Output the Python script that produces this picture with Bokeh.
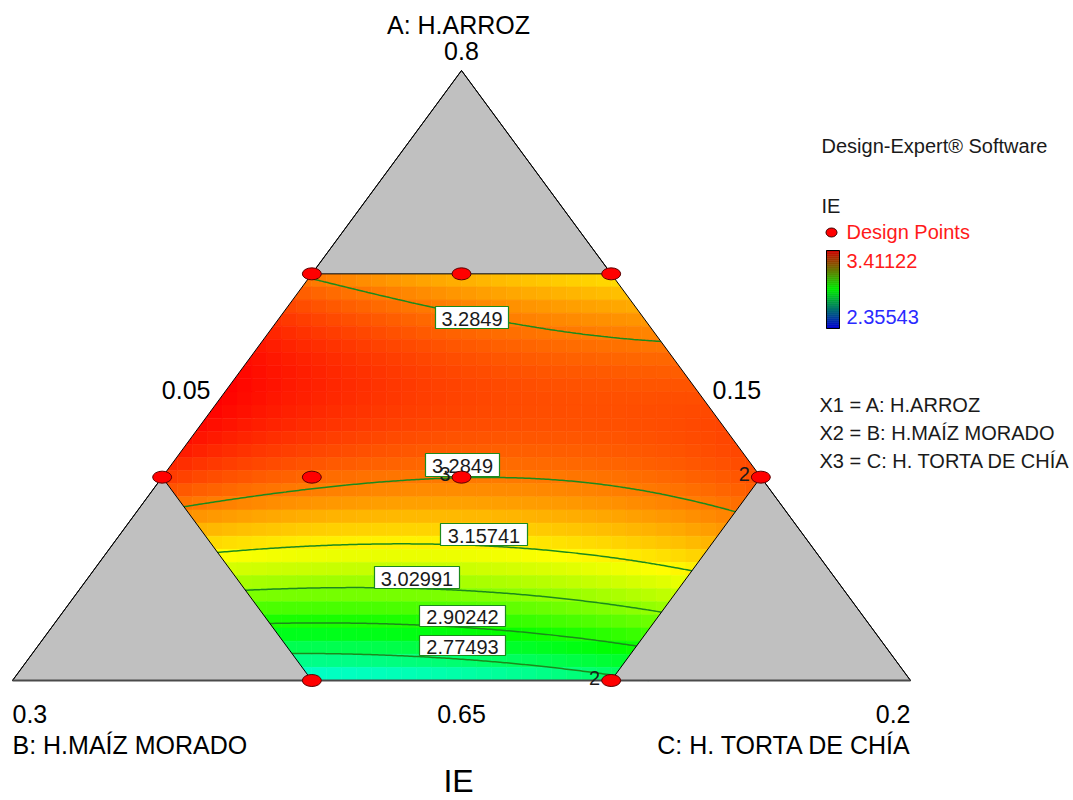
import numpy as np
from bokeh.plotting import figure
from bokeh.models import Range1d
from bokeh.core.properties import value
from bokeh.embed import file_html
from bokeh.resources import INLINE

# ---------------- data ----------------
axis_names = ["A: H.ARROZ", "B: H.MAÍZ MORADO", "C: H. TORTA DE CHÍA"]
vertex_ticks = ["0.8", "0.3", "0.2"]          # A apex, B apex, C apex
side_ticks = ["0.05", "0.15", "0.65"]         # C on A-B side, B on A-C side, A on B-C side
low_bounds = [0.65, 0.15, 0.05]
simplex_span = 0.15

design_A = [0.75, 0.75, 0.75, 0.70, 0.70, 0.70, 0.70, 0.65, 0.65]
design_B = [0.20, 0.175, 0.15, 0.25, 0.225, 0.20, 0.15, 0.25, 0.20]
design_C = [0.05, 0.075, 0.10, 0.05, 0.075, 0.10, 0.15, 0.10, 0.15]
design_reps = [1, 1, 1, 1, 1, 3, 2, 1, 2]

contour_levels = [2.77493, 2.90242, 3.02991, 3.15741, 3.2849]
ie_min = 2.35543
ie_max = 3.41122

# response IE (contour crossings and colours)
read_A = [0.7487, 0.7412, 0.7370, 0.7338, 0.7328, 0.7336,
          0.6929, 0.6988, 0.7003, 0.7003, 0.6983, 0.6954, 0.6904,
          0.6817, 0.6827, 0.6840, 0.6830, 0.6805, 0.6765,
          0.6726, 0.6731, 0.6723, 0.6698, 0.6666,
          0.6641, 0.6639, 0.6631, 0.6587,
          0.6567, 0.6562, 0.6557, 0.6520,
          0.75, 0.75, 0.75, 0.74, 0.725, 0.7194, 0.725, 0.725, 0.725,
          0.70, 0.70, 0.70, 0.70, 0.65, 0.65, 0.65]
read_B = [0.2014, 0.1896, 0.1800, 0.1694, 0.1592, 0.1500,
          0.2497, 0.2208, 0.2055, 0.1905, 0.1776, 0.1679, 0.1599,
          0.2498, 0.2305, 0.2115, 0.2031, 0.1877, 0.1735,
          0.2494, 0.2348, 0.2140, 0.1986, 0.1835,
          0.2495, 0.2349, 0.2186, 0.1916,
          0.2500, 0.2388, 0.2223, 0.2008,
          0.20, 0.175, 0.15, 0.21, 0.225, 0.2239, 0.20, 0.175, 0.15,
          0.25, 0.225, 0.175, 0.15, 0.25, 0.225, 0.20]
read_C = [0.0499, 0.0692, 0.0830, 0.0968, 0.1080, 0.1164,
          0.0574, 0.0804, 0.0942, 0.1092, 0.1241, 0.1367, 0.1497,
          0.0685, 0.0868, 0.1045, 0.1139, 0.1318, 0.1500,
          0.0780, 0.0921, 0.1137, 0.1316, 0.1499,
          0.0864, 0.1012, 0.1183, 0.1497,
          0.0933, 0.1050, 0.1220, 0.1472,
          0.05, 0.075, 0.10, 0.05, 0.05, 0.0567, 0.075, 0.10, 0.125,
          0.05, 0.075, 0.125, 0.15, 0.10, 0.125, 0.15]
read_IE = [3.2849] * 6 + [3.2849] * 7 + [3.15741] * 6 + [3.02991] * 5 + [2.90242] * 4 + [2.77493] * 4 + \
          [3.27, 3.22, 3.19, 3.36, 3.40, 3.41, 3.38, 3.34, 3.31,
           3.35, 3.30, 3.30, 3.32, 2.66, 2.68, 2.75]

# ---------------- layout ----------------
TOP = (461.0, 70.0)
BL = (12.0, 680.0)
BR = (910.0, 680.0)
FONT = value("Liberation Sans")


def pseudo(A, B, C):
    return ((np.asarray(A, float) - low_bounds[0]) / simplex_span,
            (np.asarray(B, float) - low_bounds[1]) / simplex_span,
            (np.asarray(C, float) - low_bounds[2]) / simplex_span)


def to_px(A, B, C):
    a, b, c = pseudo(A, B, C)
    return (a * TOP[0] + b * BL[0] + c * BR[0], a * TOP[1] + b * BL[1] + c * BR[1])


def px_to_pseudo(x, y):
    a = (BL[1] - y) / (BL[1] - TOP[1])
    c = (x - BL[0] - a * (TOP[0] - BL[0])) / (BR[0] - BL[0])
    return a, 1 - a - c, c


def terms(a, b, c):
    return np.stack([a, b, c, a * b, a * c, b * c, a * b * c,
                     a * b * (a - b), a * c * (a - c), b * c * (b - c)], axis=-1)


ra, rb, rc = pseudo(read_A, read_B, read_C)
coef, *_ = np.linalg.lstsq(terms(ra, rb, rc), np.asarray(read_IE), rcond=None)


def model(x, y):
    a, b, c = px_to_pseudo(x, y)
    return terms(a, b, c) @ coef


cm_t = [0, 0.25, 0.5, 0.75, 1.0]
cm_r = [0, 0, 0, 255, 255]
cm_g = [0, 255, 255, 255, 0]
cm_b = [255, 255, 0, 0, 0]


def ie_colors(v):
    t = np.clip((np.asarray(v) - ie_min) / (ie_max - ie_min), 0, 1)
    r = np.interp(t, cm_t, cm_r)
    g = np.interp(t, cm_t, cm_g)
    b = np.interp(t, cm_t, cm_b)
    return ["#%02x%02x%02x" % (int(round(R)), int(round(G)), int(round(B_))) for R, G, B_ in zip(r, g, b)]


p = figure(width=1073, height=800, x_range=Range1d(0, 1073), y_range=Range1d(800, 0),
           output_backend="svg", toolbar_location=None, min_border=0,
           x_axis_location=None, y_axis_location=None)
p.outline_line_color = None
p.grid.grid_line_color = None
p.background_fill_color = "white"

# hexagon vertices
TLh = to_px(0.75, 0.20, 0.05)
TRh = to_px(0.75, 0.15, 0.10)
Rh = to_px(0.70, 0.15, 0.15)
BRh = to_px(0.65, 0.20, 0.15)
BLh = to_px(0.65, 0.25, 0.10)
Lh = to_px(0.70, 0.25, 0.05)

x0, x1 = float(Lh[0]), float(Rh[0])
y0, y1 = float(TLh[1]), float(BLh[1])

# colour field as blocky cells
nx, ny = 40, 31
xe = np.linspace(x0, x1, nx + 1)
ye = np.linspace(y0, y1, ny + 1)
XL, YT = np.meshgrid(xe[:-1], ye[:-1])
XR, YB = np.meshgrid(xe[1:], ye[1:])
zc = model((XL + XR) / 2, (YT + YB) / 2).ravel()
cols = ie_colors(zc)
p.quad(left=XL.ravel(), right=XR.ravel(), top=YT.ravel(), bottom=YB.ravel(),
       fill_color=cols, line_color=cols, line_width=0.6)

# contour lines
xs = np.linspace(x0, x1, 260)
ys = np.linspace(y0, y1, 180)
XX, YY = np.meshgrid(xs, ys)
ZZ = model(XX, YY)
p.contour(x=xs, y=ys, z=ZZ, levels=contour_levels, line_color="#1c8a1c", line_width=1.5)

# mask outside the big triangle
p.patch(x=[TOP[0], BL[0], 0, 0], y=[TOP[1], BL[1], BL[1], TOP[1]], fill_color="white", line_color=None)
p.patch(x=[TOP[0], BR[0], 1073, 1073], y=[TOP[1], BR[1], BR[1], TOP[1]], fill_color="white", line_color=None)

# grey corner regions
for tri in ([TOP, TLh, TRh], [BL, BLh, Lh], [BR, Rh, BRh]):
    p.patch(x=[float(v[0]) for v in tri], y=[float(v[1]) for v in tri],
            fill_color="#c0c0c0", line_color="black", line_width=1)

p.line(x=[TOP[0], BL[0]], y=[TOP[1], BL[1]], line_color="black", line_width=1)
p.line(x=[TOP[0], BR[0]], y=[TOP[1], BR[1]], line_color="black", line_width=1)
p.line(x=[BL[0], BR[0]], y=[BL[1], BR[1]], line_color="#4a4a4a", line_width=2)


def txt(x, y, s, size, color="black", align="left", font=FONT):
    p.text(x=[x], y=[y], text=[s], text_font=font, text_font_size=f"{size}px", text_color=color,
           text_align=align, text_baseline="middle")


# contour labels
label_level_idx = [4, 4, 3, 2, 1, 0]
label_boxes = [(435, 508, 306, 328), (425, 499, 453, 476), (440, 527, 523, 545),
               (374, 459, 566, 588), (419, 505, 605, 626), (419, 505, 635, 655)]
for idx, (l, r, t, b) in zip(label_level_idx, label_boxes):
    p.quad(left=[l], right=[r], top=[t], bottom=[b], fill_color="white", line_color="#1c8a1c", line_width=1.2)
    txt((l + r) / 2, (t + b) / 2 + 1, "%g" % contour_levels[idx], 20, color="#1a1a1a", align="center")

# design points
dx, dy = to_px(design_A, design_B, design_C)
p.ellipse(x=dx, y=dy, width=19, height=12, fill_color="#ff0000", line_color="#5a0000", line_width=1)
for xx, yy, n in zip(dx, dy, design_reps):
    if n > 1:
        txt(float(xx) - 11, float(yy) - 3, str(n), 20, color="#1a1a1a", align="right")

# axis texts
txt(458, 24, axis_names[0], 25, align="center")
txt(461, 50, vertex_ticks[0], 25, align="center")
txt(210, 389, side_ticks[0], 25, align="right")
txt(712, 389, side_ticks[1], 25, align="left")
txt(12, 713, vertex_ticks[1], 25, align="left")
txt(461, 713, side_ticks[2], 25, align="center")
txt(910, 713, vertex_ticks[2], 25, align="right")
txt(12, 744, axis_names[1], 25, align="left")
txt(911, 744, axis_names[2], 25, align="right")
txt(458, 780, "IE", 32, align="center")

# legend
txt(821, 145, "Design-Expert® Software", 20, color="#1a1a1a")
txt(821, 205, "IE", 20, color="#1a1a1a")
p.ellipse(x=[831], y=[232], width=11, height=9, fill_color="#ff0000", line_color="#3a0000", line_width=1)
txt(846, 231, "Design Points", 20, color="#ff1a1a")
nb = 40
cb_y = np.linspace(250, 328, nb + 1)
tt = 1 - (np.arange(nb) + 0.5) / nb
cr = np.interp(tt, [0, 0.5, 1], [0, 0, 210])
cg = np.interp(tt, [0, 0.5, 1], [0, 235, 0])
cbb = np.interp(tt, [0, 0.5, 1], [210, 0, 0])
cb_cols = ["#%02x%02x%02x" % (int(r), int(g), int(b)) for r, g, b in zip(cr, cg, cbb)]
p.quad(left=[826] * nb, right=[839] * nb, top=cb_y[:-1], bottom=cb_y[1:], fill_color=cb_cols,
       line_color=cb_cols, line_width=0.6)
p.quad(left=[826], right=[839], top=[250], bottom=[328], fill_color=None, line_color="black", line_width=1)
txt(846, 260, "%g" % ie_max, 20, color="#ff1a1a")
txt(846, 316.5, "%g" % ie_min, 20, color="#2a2aff")
txt(819, 404, "X1 = " + axis_names[0], 20, color="#1a1a1a")
txt(819, 432, "X2 = " + axis_names[1], 20, color="#1a1a1a")
txt(819, 460.5, "X3 = " + axis_names[2], 20, color="#1a1a1a")

open("out.html", "w").write(file_html(p, INLINE))
